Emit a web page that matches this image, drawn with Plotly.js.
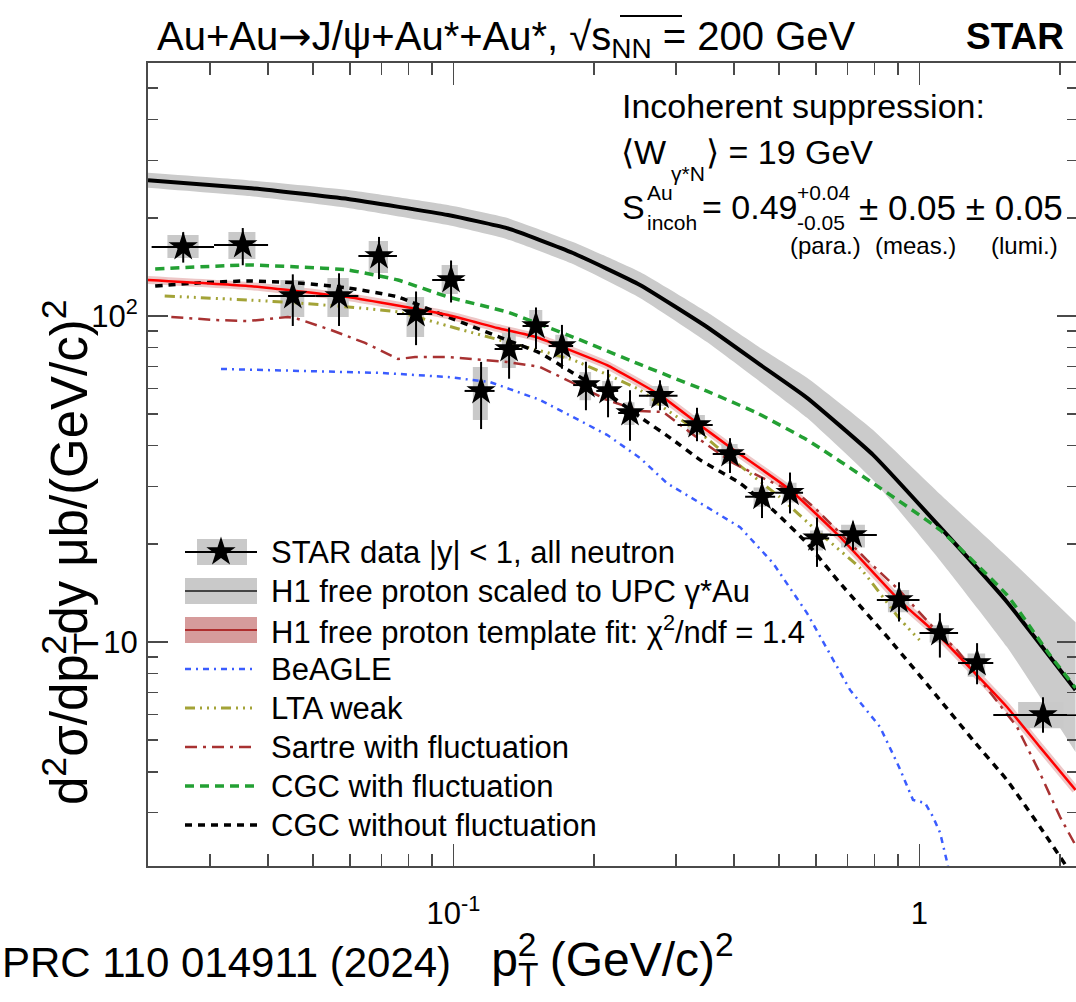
<!DOCTYPE html>
<html><head><meta charset="utf-8">
<script src="https://cdn.plot.ly/plotly-3.0.1.min.js"></script>
<style>html,body{margin:0;padding:0;overflow:hidden;background:#fff;}#plot{width:1080px;height:1002px;}</style>
</head><body><div id="plot"></div>
<script>
// ---------------- data ----------------
// STAR data points, x = pT^2 (GeV/c)^2, y = d2sigma/dpT2dy (ub/(GeV/c)^2)
const dataX = [0.0263,0.0353,0.0452,0.0568,0.0692,0.0831,0.0988,0.1146,0.1316,0.1503,0.1709,0.1924,0.2146,0.2392,0.2774,0.3331,0.3921,0.4592,0.5274,0.6026,0.7199,0.9037,1.106,1.329,1.841];
const dataY = [162.8,165.1,115.2,115.2,152.8,101.4,129.0,58.9,79.2,93.2,80.9,61.4,58.9,50.4,56.9,46.3,37.7,27.9,28.7,20.8,21.3,13.45,10.66,8.62,5.97];
const binLo = [0.0225,0.030625,0.04,0.050625,0.0625,0.075625,0.09,0.105625,0.1225,0.140625,0.16,0.180625,0.2025,0.225625,0.25,0.3025,0.36,0.4225,0.49,0.5625,0.64,0.81,1.0,1.21,1.44];
const binHi = [0.030625,0.04,0.050625,0.0625,0.075625,0.09,0.105625,0.1225,0.140625,0.16,0.180625,0.2025,0.225625,0.25,0.3025,0.36,0.4225,0.49,0.5625,0.64,0.81,1.0,1.21,1.44,2.25];
const statUp = [18,21,19,20,22,17.5,19,13.4,13,13,13,11,9.5,8.8,6.6,6,4.5,4.1,4.4,3.3,2.1,1.8,1.6,1.3,0.8];
const statDn = [17,22,22,22,23,20,19,13.9,15,14,12,10,10,9,5.5,5,4.7,3.9,3.9,3.8,2.2,1.9,1.7,1.2,0.7];
const sysUp = [14.4,15.9,13.8,15.6,17.1,12.9,14.4,10.9,9.5,11.1,6.7,5.9,4.3,4.0,4.1,3.4,2.8,1.9,2.1,1.2,1.6,1.0,0.6,0.6,0.58];
const sysDn = [12.2,15.5,15.9,15.9,17.3,15.2,12.1,10.9,10.0,7.8,6.8,6.2,4.0,4.1,3.9,3.1,2.5,1.9,1.9,1.7,1.8,1.1,0.7,0.8,0.53];

// H1 free proton scaled to UPC gamma*Au (line + band)
const h1X  = [0.0221,0.0362,0.0594,0.0973,0.1302,0.1804,0.2513,0.3499,0.4547,0.5736,0.7949,1.107,1.541,2.162];
const h1Y  = [261,247,228.5,204,186,156,124.5,92.5,70.9,56.1,37.5,22.5,13.27,7.13];
const h1Hi = [275,261,243.5,219,200,168.6,136.5,102.8,79.9,64.6,44.7,28.4,18.3,11.5];
const h1Lo = [247.5,233.5,214.4,190,172,144.3,113.6,83.2,62.9,48.7,31.4,17.8,9.66,4.6];

// H1 free proton template fit
const fitX = [0.0221,0.0362,0.0594,0.0973,0.1242,0.1503,0.1709,0.2135,0.2774,0.3331,0.3921,0.5274,0.6751,0.9037,1.107,1.541,1.8137,2.162];
const fitY = [128.9,123.6,114.4,100.7,91.9,86.2,80.4,70.7,57.2,47.0,39.6,29.3,21.0,13.45,10.36,6.32,4.76,3.52];

// BeAGLE
const beaX = [0.0317,0.0504,0.0699,0.0973,0.1198,0.1302,0.1533,0.1804,0.2135,0.2513,0.2872,0.3381,0.412,0.4849,0.5736,0.7095,0.8227,0.9037,0.9683,1.0275,1.069,1.107,1.151];
const beaY = [68.8,67.8,66.9,65.0,62.7,60.1,55.3,49.0,43.2,36.7,30.7,26.7,22.5,17.47,12.27,7.13,5.49,4.14,3.28,3.21,2.91,2.60,2.06];

// LTA weak
const ltaX = [0.0240,0.0362,0.0464,0.0594,0.0760,0.0973,0.1302,0.1804,0.2513,0.2774,0.3381,0.398,0.5019,0.6026,0.7453,0.9037,1.0];
const ltaY = [115.2,112.0,109.6,106.6,102.9,93.2,83.2,73.3,59.3,53.3,43.8,36.1,27.8,21.9,16.87,11.85,10.14];

// Sartre with fluctuation
const sarX = [0.0248,0.0308,0.0362,0.0441,0.0464,0.0546,0.0646,0.0760,0.0827,0.0973,0.1302,0.1533,0.1804,0.2135,0.2513,0.2816,0.3381,0.398,0.4706,0.5541,0.6026,0.7715,0.9037,1.069,1.2036,1.619,1.8137,2.002,2.162];
const sarY = [99.3,97.2,96.5,99.3,97.9,90.6,82.7,73.8,74.8,74.8,72.3,69.8,62.3,55.3,51.1,50.8,41.7,35.4,31.4,28.2,25.4,17.84,14.44,11.1,9.45,5.49,3.96,2.91,2.38];

// CGC with fluctuation
const cgcFX = [0.0229,0.0362,0.0464,0.0594,0.0760,0.0973,0.1302,0.1804,0.2513,0.3499,0.4481,0.5736,0.7949,1.107,1.541,1.905,2.162];
const cgcFY = [139.4,143.4,141.4,138.4,128.9,114.4,102.9,86.2,71.0,58.8,50.4,41.7,30.7,22.06,13.94,9.12,7.23];

// CGC without fluctuation
const cgcNX = [0.0229,0.0283,0.0362,0.0464,0.0594,0.0760,0.0973,0.1302,0.1533,0.1804,0.2135,0.2513,0.2958,0.3381,0.412,0.4849,0.5736,0.6751,0.8645,1.107,1.3026,1.541,1.8137,2.063];
const cgcNY = [123.6,126.3,128.1,126.3,121.9,114.4,99.3,84.4,77.0,66.9,58.0,49.0,41.7,36.2,30.7,25.4,20.1,15.17,10.14,6.64,5.0,3.77,2.71,2.06];

// axes ticks
const xTickVals = [0.1, 1];
const xTickText = ['10<sup>-1</sup>', '1'];
const xMinor = [0.03,0.04,0.05,0.06,0.07,0.08,0.09,0.2,0.3,0.4,0.5,0.6,0.7,0.8,0.9,2];
const yTickVals = [10, 100];
const yTickText = ['10', '10<sup>2</sup>'];
const yMinor = [3,4,5,6,7,8,9,20,30,40,50,60,70,80,90,200,300,400,500];

const legendLabels = [
  'STAR data |y| < 1, all neutron',
  'H1 free proton scaled to UPC γ*Au',
  'H1 free proton template fit: χ<sup>2</sup>/ndf = 1.4',
  'BeAGLE',
  'LTA weak',
  'Sartre with fluctuation',
  'CGC with fluctuation',
  'CGC without fluctuation'
];

// ---------------- styles ----------------
const F = 'Liberation Sans, Arial, Helvetica, sans-serif';
const C = {
  band: '#cbcbcb', h1: '#000000', fit: '#ff0000', fitBand: 'rgba(215,130,130,0.45)',
  bea: '#3a5cff', lta: '#a3a337', sar: '#a83232', cgcF: '#23a033', cgcN: '#000000'
};
const D = {
  bea: '6px,5px,2px,5px',
  lta: '10px,5px,2px,5px,2px,5px,2px,5px',
  sar: '12px,6px,3px,6px',
  cgcF: '9px,6px',
  cgcN: '7px,6px'
};

// pixel -> paper helpers for annotations / legend (plot area 148..1077 x 63..866)
const PL = 148, PR = 1077, PT = 63, PB = 866;
const fx = x => (x - PL) / (PR - PL);
const fy = y => (PB - y) / (PB - PT);

const sm = {shape: 'spline', smoothing: 0.4};
const traces = [];
// H1 band
traces.push({x: h1X, y: h1Lo, mode: 'lines', line: Object.assign({width: 0, color: C.band}, sm), hoverinfo: 'skip', showlegend: false});
traces.push({x: h1X, y: h1Hi, mode: 'lines', fill: 'tonexty', fillcolor: C.band, line: Object.assign({width: 0, color: C.band}, sm), hoverinfo: 'skip', showlegend: false});
// H1 line
traces.push({x: h1X, y: h1Y, mode: 'lines', line: Object.assign({width: 4, color: C.h1}, sm), showlegend: false});
// fit band (thick translucent line under the fit)
traces.push({x: fitX, y: fitY, mode: 'lines', line: Object.assign({width: 8, color: C.fitBand}, sm), showlegend: false, hoverinfo: 'skip'});

// systematic boxes
const bx = [], by = [];
for (let i = 0; i < dataX.length; i++) {
  const l = Math.sqrt(dataX[i] * binLo[i]);
  const r = Math.sqrt(dataX[i] * binHi[i]);
  const b = dataY[i] - sysDn[i], t = dataY[i] + sysUp[i];
  bx.push(l, r, r, l, l, null);
  by.push(b, b, t, t, b, null);
}
traces.push({x: bx, y: by, mode: 'lines', fill: 'toself', fillcolor: '#c9c9c9', line: {width: 0}, hoverinfo: 'skip', showlegend: false});

// model curves
traces.push({x: beaX, y: beaY, mode: 'lines', line: {width: 2.5, color: C.bea, dash: D.bea}, showlegend: false});
traces.push({x: ltaX, y: ltaY, mode: 'lines', line: Object.assign({width: 3, color: C.lta, dash: D.lta}, sm), showlegend: false});
traces.push({x: sarX, y: sarY, mode: 'lines', line: {width: 2.5, color: C.sar, dash: D.sar}, showlegend: false});
traces.push({x: cgcFX, y: cgcFY, mode: 'lines', line: Object.assign({width: 3.5, color: C.cgcF, dash: D.cgcF}, sm), showlegend: false});
traces.push({x: cgcNX, y: cgcNY, mode: 'lines', line: Object.assign({width: 3.5, color: C.cgcN, dash: D.cgcN}, sm), showlegend: false});
traces.push({x: fitX, y: fitY, mode: 'lines', line: Object.assign({width: 2.5, color: C.fit}, sm), showlegend: false});

// STAR data
traces.push({
  x: dataX, y: dataY, mode: 'markers',
  marker: {symbol: 'star', size: 22, color: '#000'},
  error_x: {type: 'data', symmetric: false, array: dataX.map((v, i) => binHi[i] - v), arrayminus: dataX.map((v, i) => v - binLo[i]), thickness: 2, width: 0, color: '#000'},
  error_y: {type: 'data', symmetric: false, array: statUp, arrayminus: statDn, thickness: 2, width: 0, color: '#000'},
  showlegend: false
});

// ---------------- hand-built legend (overlay axes in paper units) ----------------
const legY = [552, 591, 630, 669, 708, 747, 786, 825];
const sx0 = 185, sx1 = 257;
function rectTrace(x0, x1, y0, y1, color) {
  return {x: [fx(x0), fx(x1), fx(x1), fx(x0), fx(x0)], y: [fy(y0), fy(y0), fy(y1), fy(y1), fy(y0)],
    xaxis: 'x2', yaxis: 'y2', mode: 'lines', fill: 'toself', fillcolor: color, line: {width: 0}, hoverinfo: 'skip', showlegend: false};
}
function segTrace(yc, color, width, dash) {
  return {x: [fx(sx0), fx(sx1)], y: [fy(yc), fy(yc)], xaxis: 'x2', yaxis: 'y2', mode: 'lines',
    line: {color: color, width: width, dash: dash || 'solid'}, hoverinfo: 'skip', showlegend: false};
}
traces.push(rectTrace(197, 247, legY[0] - 13, legY[0] + 13, '#c9c9c9'));
traces.push(segTrace(legY[0], '#000', 2));
traces.push({x: [fx(221)], y: [fy(legY[0])], xaxis: 'x2', yaxis: 'y2', mode: 'markers', marker: {symbol: 'star', size: 22, color: '#000'}, hoverinfo: 'skip', showlegend: false});
traces.push(rectTrace(sx0, sx1, legY[1] - 13, legY[1] + 13, '#c9c9c9'));
traces.push(segTrace(legY[1], '#444', 2));
traces.push(rectTrace(sx0, sx1, legY[2] - 13, legY[2] + 13, 'rgb(214,155,155)'));
traces.push(segTrace(legY[2], 'rgb(175,45,45)', 2));
traces.push(segTrace(legY[3], C.bea, 2.5, D.bea));
traces.push(segTrace(legY[4], C.lta, 3, D.lta));
traces.push(segTrace(legY[5], C.sar, 2.5, D.sar));
traces.push(segTrace(legY[6], C.cgcF, 3.5, D.cgcF));
traces.push(segTrace(legY[7], C.cgcN, 3.5, D.cgcN));

const ann = [];
function txt(px, py, text, size, opts) {
  ann.push(Object.assign({xref: 'paper', yref: 'paper', x: fx(px), y: fy(py), xanchor: 'left', yanchor: 'middle',
    text: text, showarrow: false, font: {family: F, size: size, color: '#000'}, borderpad: 0}, opts || {}));
}
legendLabels.forEach((t, i) => txt(270, legY[i], t, 31));

// top-right text block
txt(621, 106, 'Incoherent suppression:', 34);
txt(620, 152, '⟨W', 34);
txt(670, 173, 'γ*N', 21);
txt(705, 152, '⟩ = 19 GeV', 34);
txt(621, 207, 'S', 34);
txt(646, 193, 'Au', 21);
txt(646, 222, 'incoh', 21);
txt(701, 207, '= 0.49', 34);
txt(796, 193, '+0.04', 21);
txt(796, 222, '-0.05', 21);
txt(858, 207, '± 0.05 ± 0.05', 35);
txt(789, 245, '(para.)', 24);
txt(874, 245, '(meas.)', 24);
txt(990, 245, '(lumi.)', 24);

// STAR label
ann.push({xref: 'paper', yref: 'paper', x: fx(1066), y: fy(36), xanchor: 'right', yanchor: 'middle', text: '<b>STAR</b>', showarrow: false, font: {family: F, size: 37, color: '#000'}});
// reference
ann.push({xref: 'paper', yref: 'paper', x: fx(0), y: fy(962), xanchor: 'left', yanchor: 'middle', text: 'PRC 110 014911 (2024)', showarrow: false, font: {family: F, size: 42, color: '#000'}});
// y axis title
ann.push({xref: 'paper', yref: 'paper', x: fx(66), y: fy(552), xanchor: 'center', yanchor: 'middle', textangle: -90,
  text: 'd<sup>2</sup>σ/dp<sub style="letter-spacing:-0.62em">T</sub><sup>2</sup>dy μb/(GeV/c)<sup>2</sup>', showarrow: false, font: {family: F, size: 51, color: '#000'}});

const axisCommon = {
  type: 'log', showgrid: false, zeroline: false, showline: true, linecolor: '#4a4a4a', linewidth: 2, mirror: 'ticks',
  ticks: 'inside', tickcolor: '#4a4a4a', tickwidth: 1.5, tickmode: 'array',
  tickfont: {family: F, size: 31, color: '#000'}
};

const layout = {
  width: 1080, height: 1002,
  margin: {l: PL, r: 1080 - PR, t: PT, b: 1002 - PB},
  paper_bgcolor: '#fff', plot_bgcolor: '#fff',
  font: {family: F, size: 30, color: '#000'},
  showlegend: false,
  title: {text: 'Au+Au<span style="font-family:DejaVu Sans">→</span>J/ψ+Au*+Au*, √s<sub>NN</sub> = 200 GeV',
    x: 157 / 1080, xanchor: 'left', xref: 'container', y: 1 - 36 / 1002, yanchor: 'middle', yref: 'container',
    font: {family: F, size: 40, color: '#000'}},
  xaxis: Object.assign({}, axisCommon, {
    range: [-1.6556, 0.338], tickvals: xTickVals, ticktext: xTickText, ticklen: 22, ticklabelstandoff: 19,
    minor: {tickmode: 'array', tickvals: xMinor, ticks: 'inside', ticklen: 12, tickcolor: '#4a4a4a', tickwidth: 1.5},
    title: {text: 'p<sub style="letter-spacing:-0.62em">T</sub><sup>2</sup> (GeV/c)<sup>2</sup>', font: {family: F, size: 48, color: '#000'}, standoff: 12}
  }),
  yaxis: Object.assign({}, axisCommon, {
    range: [0.313, 2.776], tickvals: yTickVals, ticktext: yTickText, ticklen: 20, ticklabelstandoff: 2,
    minor: {tickmode: 'array', tickvals: yMinor, ticks: 'inside', ticklen: 10, tickcolor: '#4a4a4a', tickwidth: 1.5}
  }),
  xaxis2: {overlaying: 'x', range: [0, 1], visible: false, fixedrange: true},
  yaxis2: {overlaying: 'y', range: [0, 1], visible: false, fixedrange: true},
  shapes: [
    // bar of the square-root sign in the title
    {type: 'line', xref: 'paper', yref: 'paper', x0: fx(620), x1: fx(682), y0: fy(16), y1: fy(16), line: {color: '#000', width: 2}}
  ],
  annotations: ann
};

Plotly.newPlot('plot', traces, layout, {displayModeBar: false, staticPlot: true});
</script></body></html>
